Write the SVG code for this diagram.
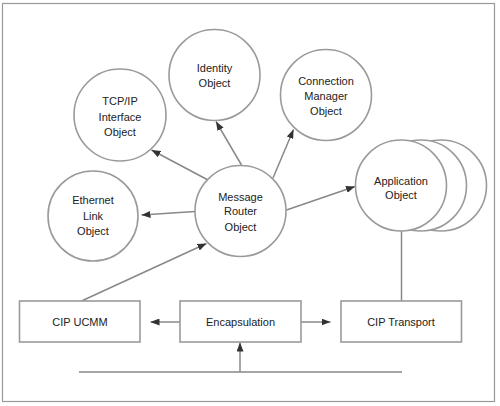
<svg xmlns="http://www.w3.org/2000/svg" width="500" height="406" viewBox="0 0 500 406">
<style>
.frame{fill:#fff;stroke:#999;stroke-width:1.2}
.node{fill:#fff;stroke:#9a9a9a;stroke-width:1.6}
.lbl{font-family:"Liberation Sans",Arial,sans-serif;font-size:11px;fill:#222;text-anchor:middle}
.conn{stroke:#888;stroke-width:1.5;fill:none}
</style>
<defs>
<marker id="ah" markerUnits="userSpaceOnUse" markerWidth="9" markerHeight="7" refX="9" refY="3.5" orient="auto">
<path d="M0,0 L9,3.5 L0,7 z" fill="#333"/>
</marker>
</defs>
<rect class="frame" x="2.5" y="3.5" width="492" height="398"/>
<g id="connectors">
<line class="conn" x1="195" y1="211.5" x2="141.5" y2="215" marker-end="url(#ah)"/>
<line class="conn" x1="208" y1="180" x2="151.5" y2="150" marker-end="url(#ah)"/>
<line class="conn" x1="241.5" y1="165" x2="216" y2="121.5" marker-end="url(#ah)"/>
<line class="conn" x1="273" y1="178" x2="293.5" y2="129.5" marker-end="url(#ah)"/>
<line class="conn" x1="286.5" y1="210" x2="355" y2="186.5" marker-end="url(#ah)"/>
<line class="conn" x1="81.5" y1="301" x2="206.5" y2="243.5" marker-end="url(#ah)"/>
<line class="conn" x1="401.5" y1="231" x2="401.5" y2="301"/>
<line class="conn" x1="180" y1="322" x2="150.5" y2="322" marker-end="url(#ah)"/>
<line class="conn" x1="301" y1="322" x2="330.5" y2="322" marker-end="url(#ah)"/>
<line class="conn" x1="79" y1="372" x2="402" y2="372"/>
<line class="conn" x1="240" y1="372" x2="240" y2="342.5" marker-end="url(#ah)"/>
</g>
<g id="identity">
<circle class="node" cx="214.5" cy="75" r="45.5"/>
<text class="lbl" x="214.5" y="72">Identity</text>
<text class="lbl" x="214.5" y="87">Object</text>
</g>
<g id="tcpip">
<circle class="node" cx="120" cy="115" r="46"/>
<text class="lbl" x="120" y="104.5">TCP/IP</text>
<text class="lbl" x="120" y="120.5">Interface</text>
<text class="lbl" x="120" y="135.5">Object</text>
</g>
<g id="connmgr">
<circle class="node" cx="326" cy="95" r="45.5"/>
<text class="lbl" x="326" y="84.5">Connection</text>
<text class="lbl" x="326" y="99.5">Manager</text>
<text class="lbl" x="326" y="114.5">Object</text>
</g>
<g id="application">
<circle class="node" cx="441" cy="185.5" r="45.5"/>
<circle class="node" cx="421" cy="185.5" r="45.5"/>
<circle class="node" cx="401" cy="185.5" r="45.5"/>
<text class="lbl" x="401" y="184.5">Application</text>
<text class="lbl" x="401" y="199">Object</text>
</g>
<g id="router">
<circle class="node" cx="240.5" cy="211" r="45.5"/>
<text class="lbl" x="240.5" y="200.5">Message</text>
<text class="lbl" x="240.5" y="215">Router</text>
<text class="lbl" x="240.5" y="230.5">Object</text>
</g>
<g id="ethernet">
<circle class="node" cx="93" cy="216" r="45"/>
<text class="lbl" x="93" y="204">Ethernet</text>
<text class="lbl" x="93" y="220">Link</text>
<text class="lbl" x="93" y="235">Object</text>
</g>
<g id="ucmm">
<rect class="node" x="19.5" y="301" width="120.5" height="41"/>
<text class="lbl" x="80" y="326">CIP UCMM</text>
</g>
<g id="encap">
<rect class="node" x="180" y="301" width="121" height="41"/>
<text class="lbl" x="240.5" y="326">Encapsulation</text>
</g>
<g id="transport">
<rect class="node" x="341" y="301" width="120.5" height="41"/>
<text class="lbl" x="401" y="326">CIP Transport</text>
</g>
</svg>
